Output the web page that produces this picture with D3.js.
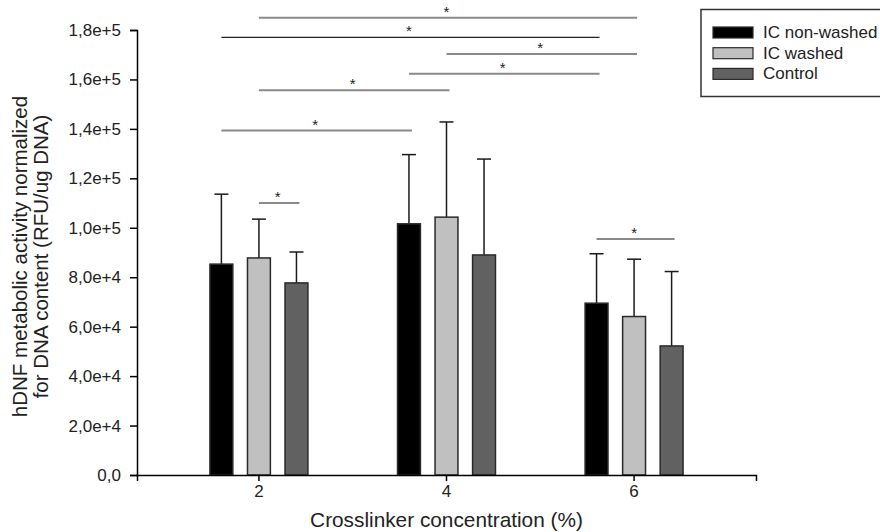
<!DOCTYPE html>
<html>
<head>
<meta charset="utf-8">
<script src="https://cdn.jsdelivr.net/npm/d3@7"></script>
<style>
  body { margin: 0; background: #fff; }
  svg { font-family: "Liberation Sans", Arial, sans-serif; }
</style>
</head>
<body>
<div id="container"></div>
<script>
/* CONSTANTS AND GLOBALS */
const width = 880,
  height = 532,
  margin = { top: 30, bottom: 57, left: 137, right: 124 };

/* DATA */
const concentrations = ["2", "4", "6"];
const seriesNames = ["IC non-washed", "IC washed", "Control"];
const nonWashed = [85300, 101600, 69500];
const nonWashedSD = [28300, 28000, 20000];
const washed = [87800, 104300, 64100];
const washedSD = [15700, 38500, 23200];
const control = [77700, 89000, 52200];
const controlSD = [12500, 38800, 30100];
const yTicks = [0, 20000, 40000, 60000, 80000, 100000, 120000, 140000, 160000, 180000];

// significance bars: [concentration, series, concentration, series, height]
const sigBars = [
  ["2", "IC washed", "6", "IC washed", 185000],
  ["2", "IC non-washed", "6", "IC non-washed", 177000],
  ["4", "IC washed", "6", "IC washed", 170300],
  ["4", "IC non-washed", "6", "IC non-washed", 162300],
  ["2", "IC washed", "4", "IC washed", 155600],
  ["2", "IC non-washed", "4", "IC non-washed", 139300],
  ["2", "IC washed", "2", "Control", 110000],
  ["6", "IC non-washed", "6", "Control", 95500]
];

const means = [nonWashed, washed, control];
const sds = [nonWashedSD, washedSD, controlSD];
const data = [];
concentrations.forEach((c, i) => {
  seriesNames.forEach((s, j) => {
    data.push({ conc: c, series: s, value: means[j][i], sd: sds[j][i] });
  });
});

/* SCALES */
const xScale = d3.scaleBand()
  .domain(concentrations)
  .range([margin.left, width - margin.right])
  .paddingInner(0)
  .paddingOuter(0.15);

const subScale = d3.scaleBand()
  .domain(seriesNames)
  .range([-56.3, 56.3])
  .paddingInner(0.39)
  .paddingOuter(0.195);

const yScale = d3.scaleLinear()
  .domain([0, 180000])
  .range([height - margin.bottom, margin.top]);

const colorScale = d3.scaleOrdinal()
  .domain(seriesNames)
  .range(["#000000", "#c0c0c0", "#616161"]);

const center = (c, s) => xScale(c) + xScale.bandwidth() / 2 + subScale(s) + subScale.bandwidth() / 2;

/* HTML ELEMENTS */
const svg = d3.select("#container")
  .append("svg")
  .attr("width", width)
  .attr("height", height);

// error bars (upper only)
const err = svg.append("g")
  .selectAll("g")
  .data(data)
  .join("g")
  .attr("stroke", "#1a1a1a")
  .attr("stroke-width", 1.5);
err.append("line")
  .attr("x1", d => center(d.conc, d.series))
  .attr("x2", d => center(d.conc, d.series))
  .attr("y1", d => yScale(d.value))
  .attr("y2", d => yScale(d.value + d.sd));
err.append("line")
  .attr("x1", d => center(d.conc, d.series) - 7)
  .attr("x2", d => center(d.conc, d.series) + 7)
  .attr("y1", d => yScale(d.value + d.sd))
  .attr("y2", d => yScale(d.value + d.sd));

// bars
svg.append("g")
  .selectAll("rect")
  .data(data)
  .join("rect")
  .attr("x", d => xScale(d.conc) + xScale.bandwidth() / 2 + subScale(d.series))
  .attr("y", d => yScale(d.value))
  .attr("width", subScale.bandwidth())
  .attr("height", d => yScale(0) - yScale(d.value))
  .attr("fill", d => colorScale(d.series))
  .attr("stroke", "#2a2a2a")
  .attr("stroke-width", 1.5);

// significance lines
const sig = svg.append("g")
  .selectAll("g")
  .data(sigBars)
  .join("g");
sig.append("line")
  .attr("x1", d => center(d[0], d[1]))
  .attr("x2", d => center(d[2], d[3]) + 3)
  .attr("y1", d => yScale(d[4]))
  .attr("y2", d => yScale(d[4]))
  .attr("stroke", (d, i) => i === 1 ? "#222" : "#8a8a8a")
  .attr("stroke-width", (d, i) => i === 1 ? 1.2 : 2);
sig.append("text")
  .attr("x", d => (center(d[0], d[1]) + center(d[2], d[3])) / 2)
  .attr("y", d => yScale(d[4]) - 1)
  .attr("text-anchor", "middle")
  .attr("font-size", 15)
  .attr("fill", "#222")
  .text("*");

// axes
const fmt = d => d === 0 ? "0,0" : d3.format(".1e")(d).replace(".", ",");
const yAxis = d3.axisLeft(yScale)
  .tickValues(yTicks)
  .tickFormat(fmt)
  .tickSizeOuter(0)
  .tickSize(7)
  .tickPadding(9);
const gy = svg.append("g")
  .attr("transform", `translate(${margin.left},0)`)
  .call(yAxis);
gy.selectAll("text").attr("font-size", 17).attr("fill", "#222");

const xAxis = d3.axisBottom(xScale)
  .tickSizeOuter(0)
  .tickSize(6)
  .tickPadding(4);
const gx = svg.append("g")
  .attr("transform", `translate(0,${height - margin.bottom})`)
  .call(xAxis);
gx.selectAll("text").attr("font-size", 17).attr("fill", "#222");

svg.selectAll(".domain, .tick line").attr("stroke", "#000").attr("stroke-width", 1.5);

// axis titles
svg.append("text")
  .attr("x", (margin.left + width - margin.right) / 2)
  .attr("y", 527)
  .attr("text-anchor", "middle")
  .attr("font-size", 20.8)
  .attr("fill", "#222")
  .text("Crosslinker concentration (%)");

const yTitle = svg.append("text")
  .attr("transform", `translate(0,${(margin.top + height - margin.bottom) / 2 + 4}) rotate(-90)`)
  .attr("text-anchor", "middle")
  .attr("font-size", 20.5)
  .attr("fill", "#222");
yTitle.append("tspan").attr("x", 0).attr("y", 27).text("hDNF metabolic activity normalized");
yTitle.append("tspan").attr("x", 0).attr("y", 48).text("for DNA content (RFU/ug DNA)");

// legend
const legend = svg.append("g");
legend.append("rect")
  .attr("x", 701)
  .attr("y", 9.5)
  .attr("width", 200)
  .attr("height", 87)
  .attr("fill", "#fff")
  .attr("stroke", "#333")
  .attr("stroke-width", 1.5);
const item = legend.selectAll("g")
  .data(seriesNames)
  .join("g")
  .attr("transform", (d, i) => `translate(713,${27 + i * 20.7})`);
item.append("rect")
  .attr("width", 40)
  .attr("height", 11)
  .attr("fill", d => colorScale(d))
  .attr("stroke", "#2a2a2a")
  .attr("stroke-width", 1.2);
item.append("text")
  .attr("x", 50)
  .attr("y", 11)
  .attr("font-size", 17)
  .attr("fill", "#222")
  .text(d => d);
</script>
</body>
</html>
